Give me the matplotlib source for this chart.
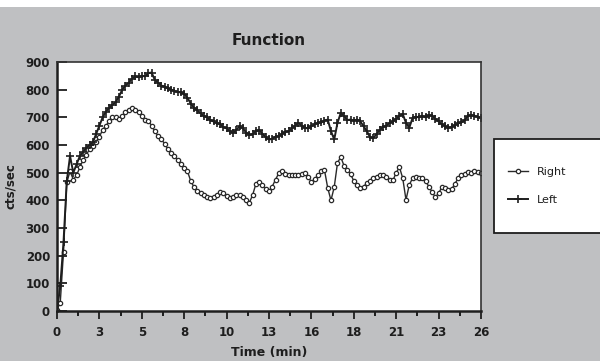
import numpy as np
from matplotlib import pyplot as plt
from matplotlib.patches import Rectangle
from matplotlib.lines import Line2D

# sampling grid, minutes
time_min = np.round(np.arange(0, 26.01, 0.2), 1)

right = [5, 30, 215, 465, 505, 475, 490, 520, 545, 565,
         585, 595, 610, 630, 655, 670, 685, 700, 700, 695,
         705, 718, 728, 733, 728, 718, 705, 692, 688, 670,
         650, 632, 620, 605, 585, 570, 560, 545, 530, 518,
         505, 470, 448, 435, 425, 418, 412, 410, 412, 420,
         430, 425, 415, 410, 412, 418, 420, 412, 400, 392,
         420, 460, 465, 455, 440, 432, 450, 475, 498, 505,
         495, 490, 490, 492, 490, 495, 500, 485, 466, 478,
         490, 505, 510, 445, 400, 448, 535, 557, 525, 510,
         495, 470, 455, 445, 450, 462, 470, 482, 485, 490,
         492, 485, 475, 472, 500, 520, 480, 402, 455, 480,
         485, 482, 480, 470, 450, 430, 412, 425, 448, 445,
         438, 440, 460, 480, 490, 495, 502, 500, 505, 502,
         500]

left = [0, 90, 250, 470, 560, 500, 530, 560, 575, 590,
        600, 610, 640, 670, 700, 720, 735, 745, 755, 775,
        800, 815, 825, 840, 848, 845, 850, 848, 860, 862,
        835, 825, 815, 810, 805, 800, 795, 792, 790, 785,
        770, 750, 735, 725, 715, 705, 700, 690, 685, 680,
        675, 665, 660, 650, 643, 655, 668, 660, 645, 636,
        640, 650, 654, 640, 628, 620, 622, 630, 632, 640,
        647, 650, 660, 670, 680, 670, 662, 660, 668, 675,
        680, 682, 688, 692, 650, 620, 680, 716, 705, 690,
        692, 688, 692, 685, 668, 650, 628, 625, 640, 655,
        665, 670, 680, 685, 695, 705, 712, 680, 662, 697,
        702, 700, 705, 700, 708, 705, 695, 685, 675, 668,
        662, 665, 672, 678, 682, 690, 705, 708, 705, 702,
        698]

x_ticks = np.linspace(0, 26, 11)
x_labels = ['0', '3', '5', '8', '10', '13', '16', '18', '21', '23', '26']
y_ticks = [0, 100, 200, 300, 400, 500, 600, 700, 800, 900]

W, H = 600, 361
bg = '#bfc0c2'
ink = '#1e1e1e'

fig = plt.figure(figsize=(6, 3.61), dpi=100, facecolor=bg)
# white strip along the top edge
fig.patches.append(Rectangle((0, 1 - 7 / H), 1, 7 / H, transform=fig.transFigure,
                             facecolor='white', edgecolor='none', zorder=0))

ax = fig.add_axes([57 / W, 50 / H, 424 / W, 249 / H])
ax.set_facecolor('white')

ax.plot(time_min, right, color='#2a2a2a', lw=1.0, marker='o', markersize=3.1,
        markerfacecolor='white', markeredgecolor='#2a2a2a', markeredgewidth=0.9,
        label='Right')
ax.plot(time_min, left, color=ink, lw=1.4, marker='+', markersize=5.5,
        markeredgewidth=1.2, label='Left')

ax.set_xlim(0, 26)
ax.set_ylim(0, 900)
ax.set_xticks(x_ticks)
ax.set_xticklabels(x_labels)
ax.set_xticks((x_ticks[:-1] + x_ticks[1:]) / 2, minor=True)
ax.set_yticks(y_ticks)

ax.tick_params(axis='y', direction='in', length=7, width=1.3, pad=5,
               labelsize=8.5, colors=ink)
ax.tick_params(axis='x', which='major', direction='out', length=6, width=1.3,
               pad=5, labelsize=8.5, colors=ink)
ax.tick_params(axis='x', which='minor', direction='out', length=3.5, width=1.2)
for lab in ax.get_xticklabels() + ax.get_yticklabels():
    lab.set_fontweight('bold')

for side in ['left', 'bottom']:
    ax.spines[side].set_linewidth(1.8)
    ax.spines[side].set_color(ink)
for side in ['top', 'right']:
    ax.spines[side].set_linewidth(1.2)
    ax.spines[side].set_color('#333333')

ax.set_title('Function', fontsize=11, fontweight='bold', color=ink, pad=12)
ax.set_xlabel('Time (min)', fontsize=9, fontweight='bold', color=ink, labelpad=5)
ax.set_ylabel('cts/sec', fontsize=8.5, fontweight='bold', color=ink, labelpad=6)

# legend box, running off the right edge like the original
fig.patches.append(Rectangle((494 / W, 1 - 233 / H), 120 / W, 94 / H,
                             transform=fig.transFigure, facecolor='white',
                             edgecolor=ink, linewidth=1.3, zorder=1))
handles = [Line2D([], [], color='#2a2a2a', lw=1.0, marker='o', markersize=3.1,
                  markerfacecolor='white', markeredgewidth=0.9),
           Line2D([], [], color=ink, lw=1.4, marker='+', markersize=5.5,
                  markeredgewidth=1.2)]
leg = fig.legend(handles, ['Right', 'Left'], loc='center left',
                 bbox_to_anchor=(502 / W, 1 - 186 / H), frameon=False,
                 fontsize=8, labelspacing=1.6, handlelength=1.8,
                 handletextpad=0.8, borderpad=0, numpoints=1)
for t in leg.get_texts():
    t.set_color(ink)
leg.set_zorder(2)

fig.savefig('out.png', dpi=100, facecolor=bg)
